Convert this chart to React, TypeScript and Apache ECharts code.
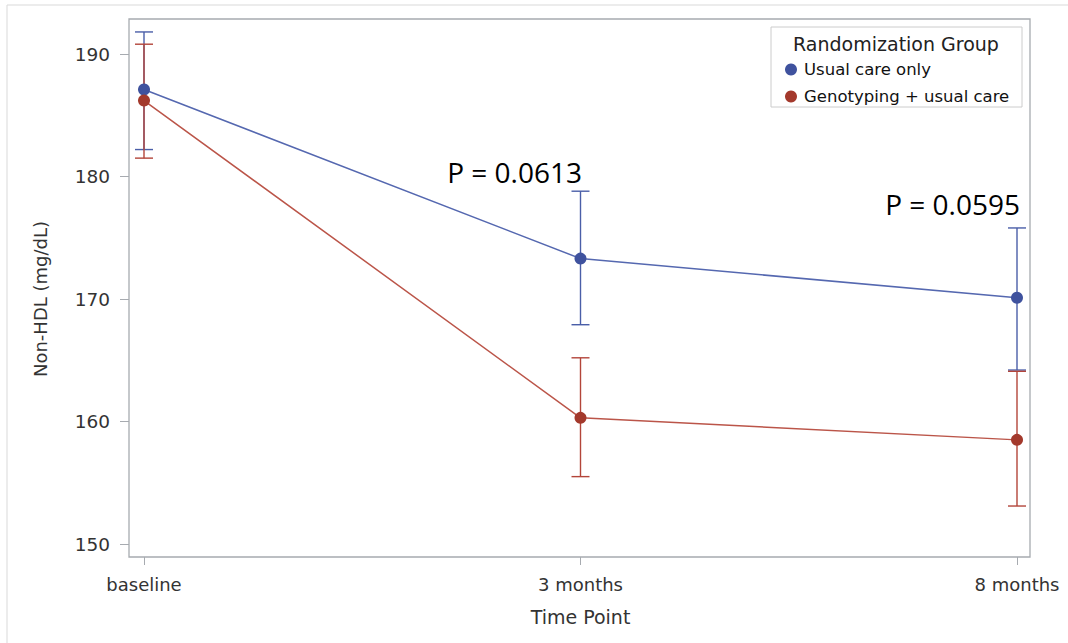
import React, { useEffect, useRef } from 'react';
import * as echarts from 'echarts';

const timePoints = ['baseline', '3 months', '8 months'];
const usualMean = [187.1, 173.3, 170.1];
const usualLow = [182.2, 167.9, 164.2];
const usualHigh = [191.8, 178.8, 175.8];
const genoMean = [186.2, 160.3, 158.5];
const genoLow = [181.5, 155.5, 153.1];
const genoHigh = [190.8, 165.2, 164.1];
const yTicks = [150, 160, 170, 180, 190];
const groupNames = ['Usual care only', 'Genotyping + usual care'];
const pLabels = ['P = 0.0613', 'P = 0.0595'];

const BLUE = '#3f529e';
const RED = '#a3392c';
const FONT = 'DejaVu Sans';

const errorBars = (color: string) => (params: any, api: any) => {
  const x = api.value(0);
  const lo = api.coord([x, api.value(1)]);
  const hi = api.coord([x, api.value(2)]);
  const w = 9;
  const style = { stroke: color, lineWidth: 1.4 };
  return {
    type: 'group',
    children: [
      { type: 'line', shape: { x1: lo[0], y1: lo[1], x2: hi[0], y2: hi[1] }, style },
      { type: 'line', shape: { x1: lo[0] - w, y1: lo[1], x2: lo[0] + w, y2: lo[1] }, style },
      { type: 'line', shape: { x1: hi[0] - w, y1: hi[1], x2: hi[0] + w, y2: hi[1] }, style },
    ],
  };
};

const App: React.FC = () => {
  const chartRef = useRef<HTMLDivElement>(null);

  useEffect(() => {
    document.body.style.margin = '0';
    const chart = echarts.init(chartRef.current, null, { renderer: 'svg' });

    const option = {
      animation: false,
      backgroundColor: '#ffffff',
      grid: { left: 144, right: 51, top: 54, bottom: 99 },
      legend: {
        data: groupNames,
        orient: 'vertical',
        left: 780,
        top: 56,
        icon: 'circle',
        itemWidth: 12,
        itemHeight: 12,
        itemGap: 10,
        textStyle: { fontFamily: FONT, fontSize: 16.5, color: '#111', padding: [0, 0, 0, 2] },
      },
      xAxis: {
        type: 'category',
        data: timePoints,
        boundaryGap: false,
        offset: 13,
        name: 'Time Point',
        nameLocation: 'middle',
        nameGap: 50,
        nameTextStyle: { fontFamily: FONT, fontSize: 19, color: '#333' },
        axisLine: { show: false },
        axisTick: { show: true, length: 8, lineStyle: { color: '#a7abb0' } },
        axisLabel: { fontFamily: FONT, fontSize: 18, color: '#333', margin: 18 },
        splitLine: { show: false },
      },
      yAxis: {
        type: 'value',
        min: yTicks[0],
        max: yTicks[yTicks.length - 1],
        interval: 10,
        offset: 15,
        name: 'Non-HDL (mg/dL)',
        nameLocation: 'middle',
        nameGap: 80,
        nameTextStyle: { fontFamily: FONT, fontSize: 18, color: '#333' },
        axisLine: { show: false },
        axisTick: { show: true, length: 9, lineStyle: { color: '#a7abb0' } },
        axisLabel: { fontFamily: FONT, fontSize: 18.5, color: '#333', margin: 19 },
        splitLine: { show: false },
      },
      graphic: [
        {
          type: 'rect',
          z: -10,
          shape: { x: 7, y: 5, width: 1100, height: 700 },
          style: { fill: 'none', stroke: '#d9d9d9', lineWidth: 1 },
        },
        {
          type: 'rect',
          z: -5,
          shape: { x: 129, y: 19, width: 901, height: 538 },
          style: { fill: 'none', stroke: '#a7abb0', lineWidth: 1.3 },
        },
        {
          type: 'rect',
          z: -1,
          shape: { x: 771, y: 27, width: 251, height: 80 },
          style: { fill: '#ffffff', stroke: '#cccccc', lineWidth: 1 },
        },
        {
          type: 'text',
          x: 896,
          y: 44,
          style: {
            text: 'Randomization Group',
            fontFamily: FONT,
            fontSize: 19,
            fill: '#222',
            align: 'center',
            verticalAlign: 'middle',
          },
        },
        {
          type: 'text',
          x: 582,
          y: 172,
          style: {
            text: pLabels[0],
            fontFamily: 'Open Sans',
            fontSize: 28,
            fill: '#000',
            align: 'right',
            verticalAlign: 'middle',
          },
        },
        {
          type: 'text',
          x: 1020,
          y: 204,
          style: {
            text: pLabels[1],
            fontFamily: 'Open Sans',
            fontSize: 28,
            fill: '#000',
            align: 'right',
            verticalAlign: 'middle',
          },
        },
      ],
      series: [
        {
          type: 'custom',
          name: 'usualErr',
          renderItem: errorBars('#4a5ea8'),
          encode: { x: 0, y: [1, 2] },
          data: timePoints.map((_, i) => [i, usualLow[i], usualHigh[i]]),
          z: 2,
        },
        {
          type: 'custom',
          name: 'genoErr',
          renderItem: errorBars('#b3453a'),
          encode: { x: 0, y: [1, 2] },
          data: timePoints.map((_, i) => [i, genoLow[i], genoHigh[i]]),
          z: 3,
        },
        {
          type: 'line',
          name: groupNames[0],
          data: usualMean,
          symbol: 'circle',
          symbolSize: 12,
          itemStyle: { color: BLUE },
          lineStyle: { color: '#5568b0', width: 1.5 },
          z: 4,
        },
        {
          type: 'line',
          name: groupNames[1],
          data: genoMean,
          symbol: 'circle',
          symbolSize: 12,
          itemStyle: { color: RED },
          lineStyle: { color: '#bb5549', width: 1.5 },
          z: 4,
        },
      ],
    };

    chart.setOption(option);

    return () => {
      chart.dispose();
    };
  }, []);

  return <div ref={chartRef} style={{ width: '1068px', height: '643px' }} />;
};

export default App;
